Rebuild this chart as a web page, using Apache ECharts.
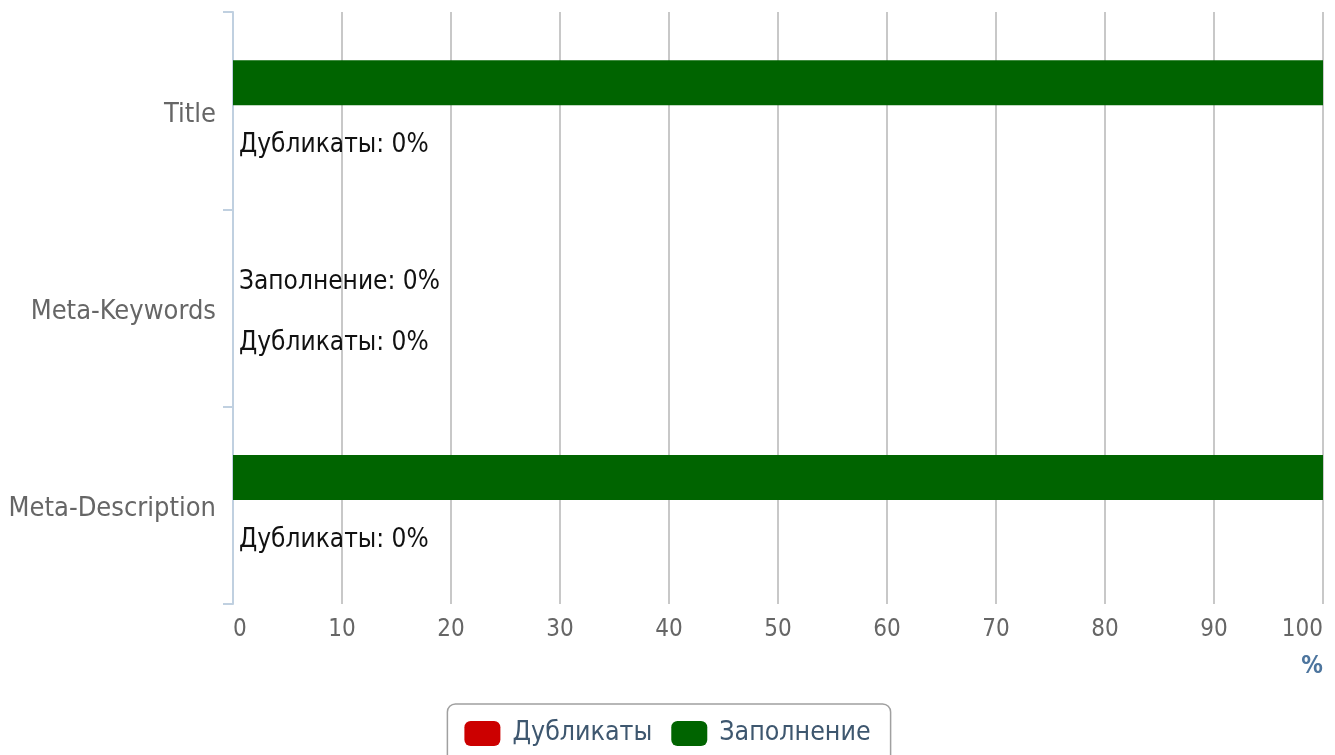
<!DOCTYPE html>
<html>
<head>
<meta charset="utf-8">
<script src="https://cdn.jsdelivr.net/npm/echarts@6/dist/echarts.min.js"></script>
<style>
  html, body { margin: 0; padding: 0; background: #fff; }
  #chart { width: 1335px; height: 755px; }
</style>
</head>
<body>
<div id="chart"></div>
<script>
// категории и значения (%)
var categories = ['Title', 'Meta-Keywords', 'Meta-Description'];
var dupValues = [0, 0, 0];        // Дубликаты
var fillValues = [100, 0, 100];   // Заполнение
var xTicks = { min: 0, max: 100, interval: 10 };

var font = 'DejaVu Sans Condensed';

function barLabel(p) {
    // подпись за краем сетки не видна
    if (p.value >= xTicks.max) return '';
    return p.seriesName + ': ' + p.value + '%';
}

var myChart = echarts.init(document.getElementById('chart'));
var option = {
    animation: false,
    grid: {
        left: 233,
        right: 12,
        top: 12,
        bottom: 151,
        outerBoundsMode: 'none'
    },
    legend: {
        data: ['Дубликаты', 'Заполнение'],
        top: 704,
        left: 'center',
        borderColor: '#a0a0a0',
        borderWidth: 1.5,
        borderRadius: 8,
        padding: [16, 20, 16, 17],
        itemGap: 19,
        itemWidth: 36,
        itemHeight: 25,
        textStyle: {
            fontFamily: font,
            fontSize: 26.5,
            color: '#3e576f',
            padding: [16, 0, 0, 7]
        }
    },
    xAxis: {
        type: 'value',
        min: xTicks.min,
        max: xTicks.max,
        interval: xTicks.interval,
        name: '%',
        nameLocation: 'end',
        nameGap: 0,
        nameTextStyle: {
            fontFamily: font,
            fontSize: 24,
            fontWeight: 'bold',
            color: '#4d759e',
            align: 'right',
            verticalAlign: 'top',
            padding: [51, 0, 0, 0]
        },
        axisLine: { show: false },
        axisTick: { show: false },
        axisLabel: {
            fontFamily: font,
            fontSize: 24,
            color: '#666',
            margin: 14,
            alignMinLabel: 'left',
            alignMaxLabel: 'right'
        },
        splitLine: {
            show: true,
            lineStyle: { color: '#c8c8c8', width: 2 }
        }
    },
    yAxis: {
        type: 'category',
        inverse: true,
        data: categories,
        axisLine: {
            show: true,
            lineStyle: { color: '#c0d0e0', width: 2 }
        },
        axisTick: {
            show: true,
            length: 10,
            lineStyle: { color: '#c0d0e0', width: 2 }
        },
        axisLabel: {
            fontFamily: font,
            fontSize: 27,
            color: '#666',
            margin: 17,
            verticalAlign: 'top',
            lineHeight: 8
        },
        splitLine: { show: false }
    },
    series: [
        {
            name: 'Заполнение',
            type: 'bar',
            barWidth: 45,
            barGap: '24%',
            itemStyle: { color: '#006400' },
            label: {
                show: true,
                position: 'right',
                distance: 6,
                offset: [0, 2],
                fontFamily: font,
                fontSize: 26,
                color: '#111',
                formatter: barLabel
            },
            data: fillValues
        },
        {
            name: 'Дубликаты',
            type: 'bar',
            barWidth: 45,
            barGap: '24%',
            itemStyle: { color: '#cc0000' },
            label: {
                show: true,
                position: 'right',
                distance: 6,
                offset: [0, 7],
                fontFamily: font,
                fontSize: 26,
                color: '#111',
                formatter: barLabel
            },
            data: dupValues
        }
    ]
};
myChart.setOption(option);
</script>
</body>
</html>
